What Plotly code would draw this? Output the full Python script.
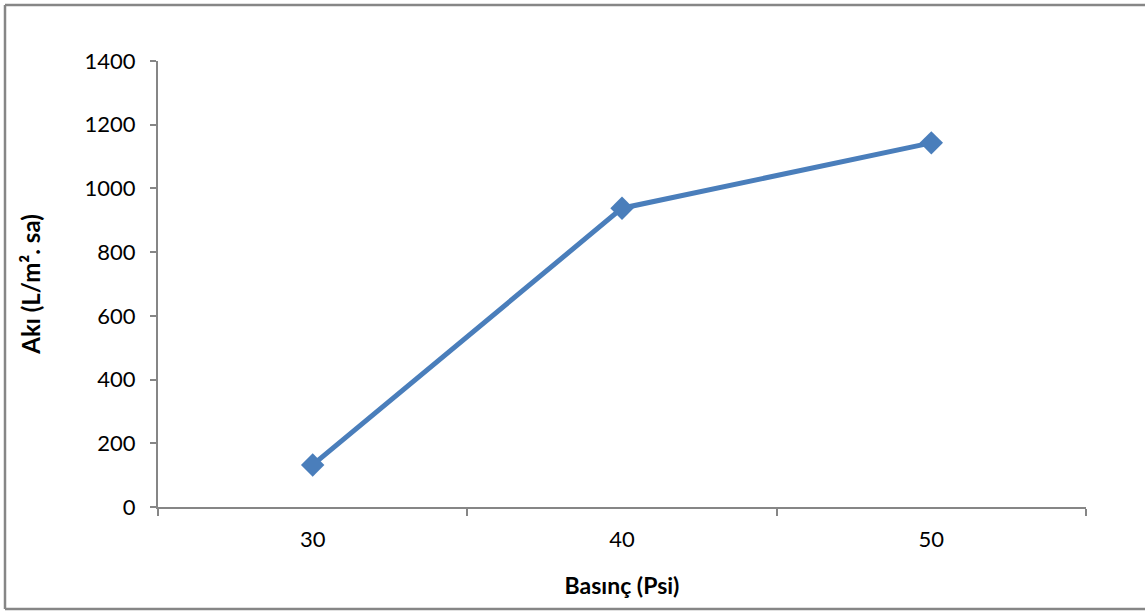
import plotly.graph_objects as go

pressure = ["30", "40", "50"]
flux = [132, 938, 1143]

x_title = "Basınç (Psi)"
y_title = "Akı (L/m². sa)"

W, H = 1145, 612
L, R, T, B = 158, 1086, 61, 507

axis_color = "#868686"
font_family = "Lato, 'Open Sans', sans-serif"

fig = go.Figure()
fig.add_trace(go.Scatter(
    x=pressure, y=flux, mode="lines+markers",
    line=dict(color="#4A7EBB", width=5),
    marker=dict(symbol="diamond", size=18, color="#4A7EBB"),
    showlegend=False,
))

def px_x(p):
    return (p - L) / (R - L)

def px_y(p):
    return (B - p) / (B - T)

border = dict(color=axis_color, width=2.5)
for (xa, ya, xb, yb) in [(5, 5, 1145, 5), (5, 5, 5, 609), (5, 609, 1145, 609)]:
    fig.add_shape(type="line", xref="paper", yref="paper",
                  x0=px_x(xa), y0=px_y(ya), x1=px_x(xb), y1=px_y(yb),
                  line=border, layer="below")

fig.update_layout(
    width=W, height=H,
    margin=dict(l=L, r=W - R, t=T, b=H - B),
    paper_bgcolor="white", plot_bgcolor="white",
    font=dict(family=font_family, size=22, color="black"),
    xaxis=dict(
        type="category", tickson="boundaries", range=[-0.5, 2.5],
        showline=True, linecolor=axis_color, linewidth=2,
        ticks="outside", ticklen=7, tickwidth=2, tickcolor=axis_color,
        showgrid=False, zeroline=False, ticklabelstandoff=12,
        title=dict(text="<b>" + x_title + "</b>", standoff=26,
                   font=dict(size=23)),
    ),
    yaxis=dict(
        range=[0, 1400], dtick=200, tick0=0,
        showline=True, linecolor=axis_color, linewidth=2,
        ticks="outside", ticklen=6, tickwidth=2, tickcolor=axis_color,
        showgrid=False, zeroline=False, ticklabelstandoff=10,
        title=dict(text="<b>" + y_title + "</b>", standoff=37,
                   font=dict(size=24)),
    ),
)

fig.write_html("out.html", config={"displayModeBar": False},
               post_script="document.body.style.margin='0';")
